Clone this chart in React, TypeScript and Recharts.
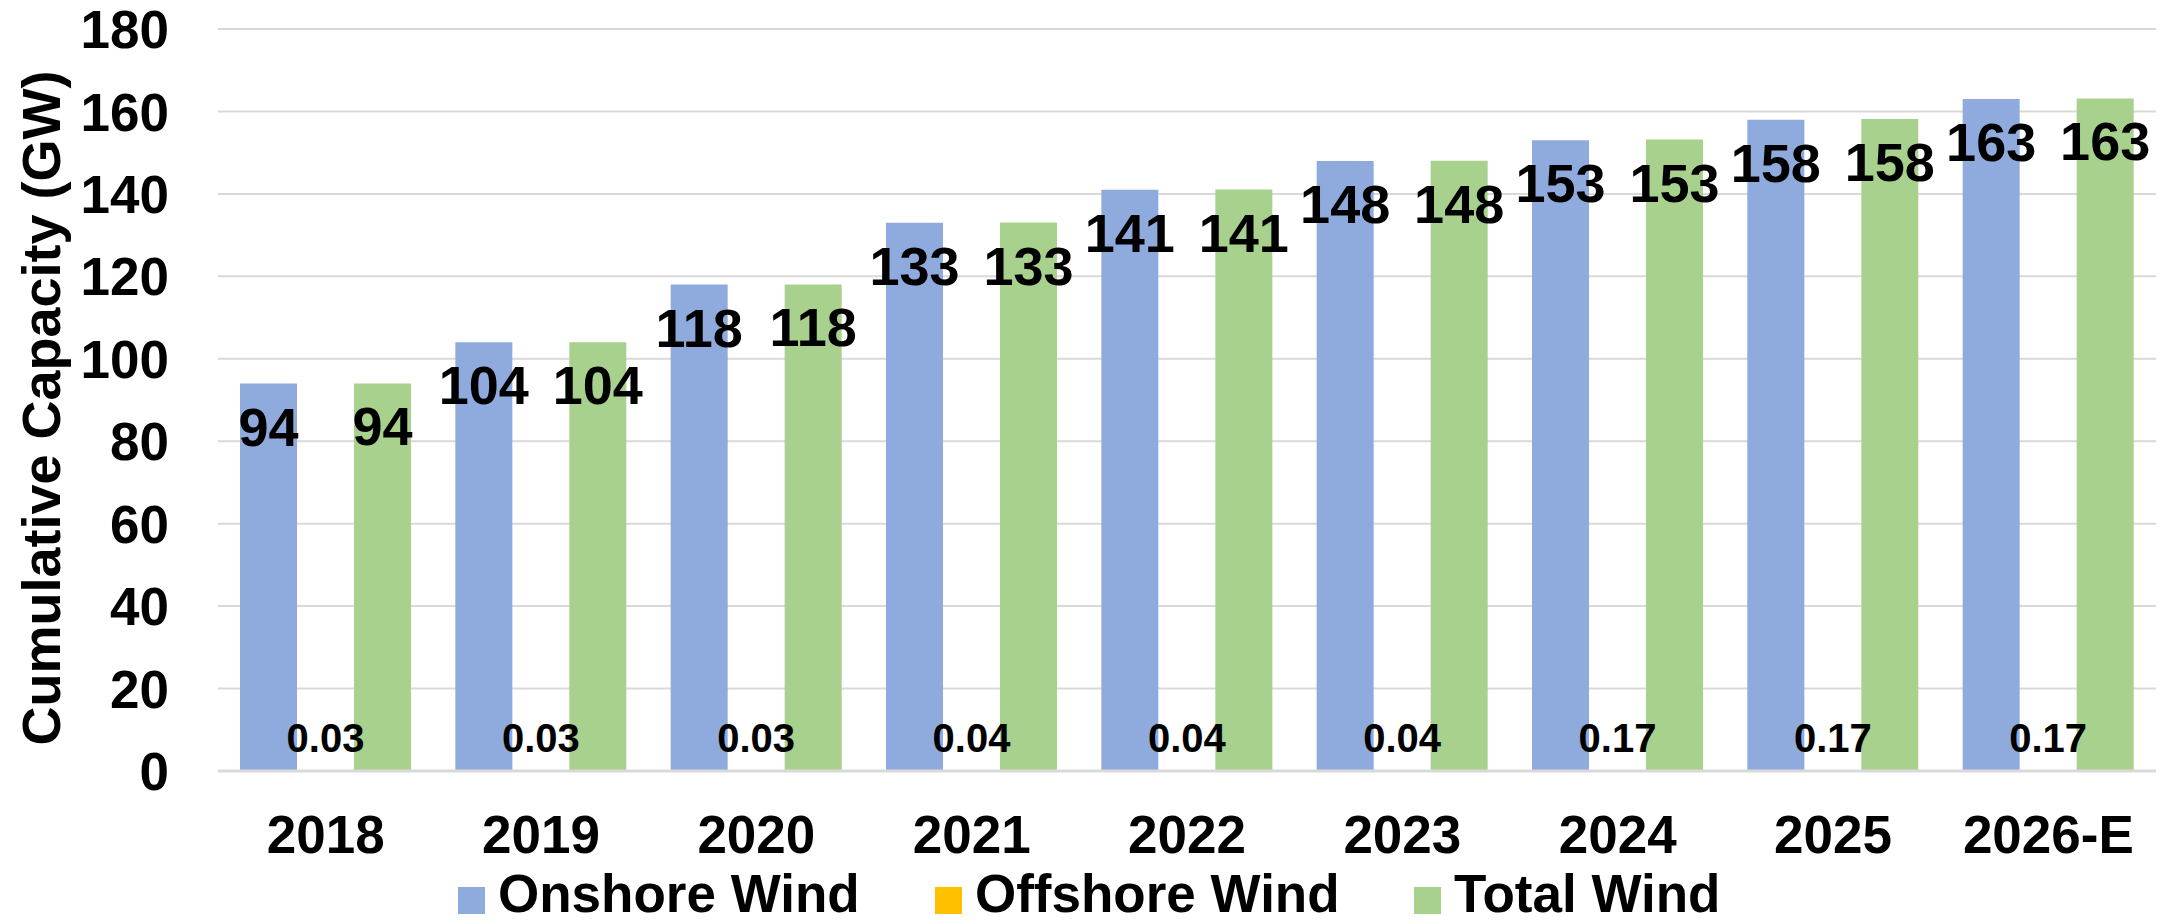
import React from 'react';
import { BarChart, Bar, XAxis, YAxis, CartesianGrid, LabelList, ReferenceLine } from 'recharts';

const categories = ['2018', '2019', '2020', '2021', '2022', '2023', '2024', '2025', '2026-E'];
const onshoreWind = [94, 104, 118, 133, 141, 148, 153, 158, 163];
const offshoreWind = [0.03, 0.03, 0.03, 0.04, 0.04, 0.04, 0.17, 0.17, 0.17];
const totalWind = [94.03, 104.03, 118.03, 133.04, 141.04, 148.04, 153.17, 158.17, 163.17];
const yTicks = [0, 20, 40, 60, 80, 100, 120, 140, 160, 180];
const seriesKeys = ['onshore', 'offshore', 'total'];
const seriesNames = ['Onshore Wind', 'Offshore Wind', 'Total Wind'];
const seriesColors = ['#8FAADC', '#FFC000', '#A9D18E'];
const yAxisTitle = 'Cumulative Capacity (GW)';

const FONT = '"Liberation Sans", Arial, Helvetica, sans-serif';

const data = categories.map((c, i) => ({
  year: c,
  onshore: onshoreWind[i],
  offshore: offshoreWind[i],
  total: totalWind[i],
}));

const BigLabel = (props: any) => {
  const { x, y, width, value } = props;
  return (
    <text
      x={Number(x) + Number(width) / 2}
      y={Number(y) + 62}
      textAnchor="middle"
      fontSize={54}
      fontWeight="bold"
      fontFamily={FONT}
      fill="#000"
    >
      {Math.round(Number(value))}
    </text>
  );
};

const SmallLabel = (props: any) => {
  const { x, y, width, height, value } = props;
  return (
    <text
      x={Number(x) + Number(width) / 2}
      y={Number(y) + Number(height) - 19}
      textAnchor="middle"
      fontSize={40}
      fontWeight="bold"
      fontFamily={FONT}
      fill="#000"
    >
      {Number(value).toFixed(2)}
    </text>
  );
};

const XTick = (props: any) => {
  const { x, y, payload } = props;
  return (
    <text x={x} y={Number(y) + 82} textAnchor="middle" fontSize={53} fontWeight="bold" fontFamily={FONT} fill="#000">
      {payload.value}
    </text>
  );
};

const YTick = (props: any) => {
  const { x, y, payload } = props;
  return (
    <text x={Number(x) - 49} y={y} dy="0.36em" textAnchor="end" fontSize={53} fontWeight="bold" fontFamily={FONT} fill="#000">
      {payload.value}
    </text>
  );
};

const legendSquares = [458, 935, 1414];

export default function App() {
  return (
    <div style={{ position: 'absolute', left: 0, top: 0, width: 2177, height: 920, background: '#fff' }}>
      <BarChart
        width={2177}
        height={920}
        data={data}
        margin={{ top: 29, right: 21, bottom: 0, left: 0 }}
        barCategoryGap={22}
        barGap={0}
      >
        <CartesianGrid horizontal vertical={false} stroke="#d9d9d9" strokeWidth={2} />
        <XAxis
          dataKey="year"
          height={149}
          axisLine={false}
          tickLine={false}
          tickSize={0}
          tickMargin={0}
          interval={0}
          tick={<XTick />}
        />
        <YAxis
          width={218}
          domain={[0, 180]}
          ticks={yTicks}
          axisLine={false}
          tickLine={false}
          tickSize={0}
          tickMargin={0}
          interval={0}
          tick={<YTick />}
        />
        {seriesKeys.map((k, i) => (
          <Bar key={k} dataKey={k} name={seriesNames[i]} fill={seriesColors[i]} isAnimationActive={false}>
            <LabelList dataKey={k} content={k === 'offshore' ? <SmallLabel /> : <BigLabel />} />
          </Bar>
        ))}
        <ReferenceLine y={0} stroke="#d9d9d9" strokeWidth={3} ifOverflow="extendDomain" />
      </BarChart>
      <svg
        width={2177}
        height={920}
        style={{ position: 'absolute', left: 0, top: 0, pointerEvents: 'none' }}
      >
        <text
          transform="rotate(-90)"
          x={-408}
          y={60}
          textAnchor="middle"
          fontSize={54}
          fontWeight="bold"
          fontFamily={FONT}
          fill="#000"
        >
          {yAxisTitle}
        </text>
        {seriesNames.map((n, i) => (
          <g key={n}>
            <rect x={legendSquares[i]} y={887} width={27} height={27} fill={seriesColors[i]} />
            <text x={legendSquares[i] + 40} y={912} fontSize={53} fontWeight="bold" fontFamily={FONT} fill="#000">
              {n}
            </text>
          </g>
        ))}
      </svg>
    </div>
  );
}
